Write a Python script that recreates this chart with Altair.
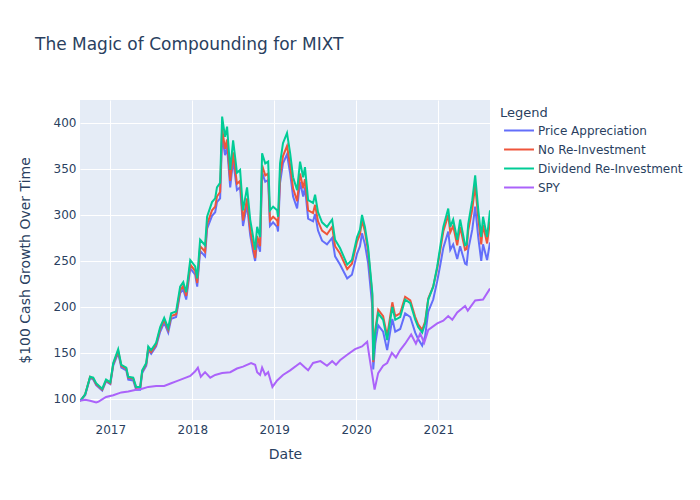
import altair as alt
import pandas as pd

# MIXT series
dates = [
    "2016-08-19", "2016-08-24", "2016-09-11", "2016-10-03", "2016-10-17", "2016-10-30",
    "2016-11-17", "2016-11-26", "2016-12-13", "2017-01-01", "2017-01-14", "2017-02-05",
    "2017-02-19", "2017-03-13", "2017-03-22", "2017-04-13", "2017-04-26", "2017-05-14",
    "2017-05-23", "2017-06-10", "2017-06-19", "2017-07-02", "2017-07-24", "2017-08-11",
    "2017-08-29", "2017-09-16", "2017-09-29", "2017-10-21", "2017-11-08", "2017-11-22",
    "2017-12-05", "2017-12-23", "2018-01-14", "2018-01-23", "2018-02-05", "2018-02-27",
    "2018-03-08", "2018-03-30", "2018-04-13", "2018-04-21", "2018-05-05", "2018-05-14",
    "2018-05-27", "2018-06-05", "2018-06-19", "2018-07-02", "2018-07-19", "2018-08-02",
    "2018-08-15", "2018-09-02", "2018-09-16", "2018-09-29", "2018-10-08", "2018-10-17",
    "2018-10-30", "2018-11-08", "2018-11-22", "2018-12-05", "2018-12-13", "2018-12-27",
    "2019-01-14", "2019-01-18", "2019-01-27", "2019-02-09", "2019-02-27", "2019-03-13",
    "2019-03-26", "2019-04-13", "2019-04-26", "2019-05-10", "2019-05-18", "2019-06-01",
    "2019-06-23", "2019-07-02", "2019-07-15", "2019-08-02", "2019-08-24", "2019-09-16",
    "2019-09-29", "2019-10-21", "2019-11-22", "2019-12-13", "2020-01-05", "2020-01-18",
    "2020-01-27", "2020-02-09", "2020-02-23", "2020-03-13", "2020-03-17", "2020-03-26",
    "2020-04-08", "2020-04-30", "2020-05-18", "2020-06-10", "2020-06-23", "2020-07-15",
    "2020-08-06", "2020-08-29", "2020-09-20", "2020-10-03", "2020-10-21", "2020-11-03",
    "2020-11-17", "2020-12-09", "2020-12-27", "2021-01-09", "2021-01-23", "2021-02-14",
    "2021-02-23", "2021-03-08", "2021-03-26", "2021-04-08", "2021-04-30", "2021-05-07",
    "2021-05-14", "2021-06-01", "2021-06-14", "2021-06-28", "2021-07-11", "2021-07-19",
    "2021-08-06", "2021-08-19",
]
dividend_reinvest = [
    98, 99, 105, 124, 123, 117, 113, 111, 121, 118, 139, 154,
    137, 134, 124, 123, 113, 113, 131, 139, 157, 153, 161, 178,
    188, 177, 193, 195, 222, 227, 216, 251, 244, 231, 273, 267,
    298, 314, 318, 330, 335, 407, 385, 396, 349, 381, 346, 349,
    305, 330, 295, 276, 262, 287, 276, 367, 356, 358, 305, 309,
    305, 298, 356, 378, 389, 367, 341, 327, 358, 341, 352, 316,
    313, 322, 303, 292, 287, 295, 273, 264, 246, 251, 276, 284,
    300, 287, 265, 215, 142, 172, 193, 186, 164, 200, 186, 189,
    208, 204, 186, 178, 172, 182, 208, 222, 244, 265, 287, 307,
    287, 295, 273, 295, 267, 268, 290, 316, 343, 305, 276, 298,
    276, 305,
]
no_reinvest = [
    98, 99, 105, 124, 122, 116, 112, 110, 120, 117, 138, 152,
    136, 133, 123, 122, 112, 112, 130, 138, 155, 151, 159, 176,
    186, 175, 190, 192, 218, 223, 212, 246, 239, 226, 266, 260,
    290, 305, 309, 320, 325, 394, 372, 382, 337, 368, 334, 337,
    294, 318, 284, 266, 253, 277, 266, 354, 343, 345, 294, 298,
    294, 288, 343, 364, 375, 354, 329, 315, 345, 329, 339, 305,
    302, 311, 293, 283, 279, 287, 266, 258, 241, 247, 271, 279,
    294, 282, 261, 212, 140, 175, 197, 190, 168, 205, 190, 193,
    211, 207, 189, 181, 175, 184, 209, 222, 242, 261, 282, 300,
    281, 288, 267, 287, 262, 263, 283, 306, 332, 296, 268, 289,
    269, 293,
]
price_appreciation = [
    98, 99, 104, 123, 121, 115, 111, 109, 119, 116, 136, 150,
    134, 131, 121, 120, 110, 110, 128, 136, 153, 149, 157, 173,
    183, 172, 187, 189, 215, 219, 208, 242, 235, 222, 261, 255,
    285, 299, 303, 314, 318, 386, 365, 374, 330, 360, 327, 330,
    288, 311, 278, 260, 250, 271, 260, 346, 336, 338, 288, 292,
    287, 282, 335, 356, 366, 345, 320, 307, 336, 320, 330, 296,
    293, 301, 283, 272, 268, 275, 255, 246, 231, 235, 258, 266,
    280, 268, 248, 200, 132, 160, 180, 173, 153, 187, 173, 176,
    193, 189, 172, 165, 158, 168, 195, 208, 228, 245, 264, 282,
    262, 268, 252, 266, 247, 246, 262, 284, 309, 275, 250, 268,
    251, 270,
]

# SPY series
spy_dates = [
    "2016-08-19", "2016-09-11", "2016-10-03", "2016-10-30", "2016-11-10", "2016-12-13",
    "2017-01-14", "2017-02-19", "2017-03-22", "2017-04-26", "2017-05-23", "2017-06-19",
    "2017-07-24", "2017-08-29", "2017-09-29", "2017-10-21", "2017-11-22", "2017-12-23",
    "2018-01-14", "2018-01-26", "2018-02-08", "2018-02-27", "2018-03-22", "2018-04-13",
    "2018-05-14", "2018-06-19", "2018-07-19", "2018-08-15", "2018-09-20", "2018-10-08",
    "2018-10-17", "2018-10-30", "2018-11-08", "2018-11-22", "2018-12-05", "2018-12-24",
    "2019-01-14", "2019-02-09", "2019-03-13", "2019-04-26", "2019-05-18", "2019-06-01",
    "2019-06-23", "2019-07-26", "2019-08-24", "2019-09-16", "2019-10-03", "2019-10-21",
    "2019-11-22", "2019-12-27", "2020-01-27", "2020-02-19", "2020-02-28", "2020-03-23",
    "2020-04-08", "2020-04-30", "2020-05-18", "2020-06-08", "2020-06-26", "2020-07-15",
    "2020-08-06", "2020-09-02", "2020-09-23", "2020-10-12", "2020-10-30", "2020-11-17",
    "2020-12-27", "2021-01-23", "2021-02-14", "2021-03-04", "2021-03-26", "2021-04-30",
    "2021-05-12", "2021-06-14", "2021-07-19", "2021-08-19",
]
spy = [
    98, 99, 98, 96, 97, 102,
    104, 107, 108, 110, 111, 113,
    114, 114, 117, 119, 122, 125,
    130, 134, 124, 129, 123, 126,
    128, 129, 133, 135, 139, 137,
    129, 126, 134, 126, 129, 113,
    120, 126, 131, 139, 134, 131,
    139, 141, 136, 141, 137, 142,
    148, 154, 157, 162, 147, 110,
    128, 136, 139, 150, 145, 153,
    160, 170, 160, 171, 161, 175,
    182, 185, 190, 186, 194, 201,
    196, 207, 208, 220,
]

series_names = ["Price Appreciation", "No Re-Investment", "Dividend Re-Investment", "SPY"]
series_colors = ["#636efa", "#EF553B", "#00cc96", "#ab63fa"]

frames = [
    pd.DataFrame({"Date": pd.to_datetime(dates), "Value": price_appreciation, "Series": series_names[0]}),
    pd.DataFrame({"Date": pd.to_datetime(dates), "Value": no_reinvest, "Series": series_names[1]}),
    pd.DataFrame({"Date": pd.to_datetime(dates), "Value": dividend_reinvest, "Series": series_names[2]}),
    pd.DataFrame({"Date": pd.to_datetime(spy_dates), "Value": spy, "Series": series_names[3]}),
]

FONT = "DejaVu Sans"
TXT = "#2a3f5f"

color = alt.Color(
    "Series:N",
    scale=alt.Scale(domain=series_names, range=series_colors),
    legend=alt.Legend(
        title="Legend", orient="none", legendX=420, legendY=7, padding=0,
        titleFontSize=13, titleFontWeight="normal", titleColor=TXT, titleFont=FONT,
        labelFontSize=12, labelColor=TXT, labelFont=FONT, titlePadding=0,
        symbolType="M-0.68,0H2.47", symbolStrokeWidth=2, symbolSize=361, rowPadding=2,
        labelOffset=17,
    ),
)

x = alt.X(
    "Date:T",
    scale=alt.Scale(nice=False),
    axis=alt.Axis(
        title="Date", format="%Y", tickCount={"interval": "year", "step": 1},
        grid=True, gridColor="white", gridWidth=1, domain=False, ticks=False,
        labelFontSize=12, labelColor=TXT, labelFont=FONT, labelPadding=4,
        titleFontSize=14, titleFontWeight="normal", titleColor=TXT, titleFont=FONT,
        titlePadding=12,
    ),
)
y = alt.Y(
    "Value:Q",
    scale=alt.Scale(domain=[77, 425], nice=False, zero=False),
    axis=alt.Axis(
        title="$100 Cash Growth Over Time", values=[100, 150, 200, 250, 300, 350, 400],
        grid=True, gridColor="white", gridWidth=1, domain=False, ticks=False,
        labelFontSize=12, labelColor=TXT, labelFont=FONT, labelPadding=4,
        titleFontSize=14, titleFontWeight="normal", titleColor=TXT, titleFont=FONT,
        titlePadding=21,
    ),
)

layers = [
    alt.Chart(f).mark_line(strokeWidth=2, clip=True).encode(x=x, y=y, color=color)
    for f in frames
]

chart = (
    alt.layer(*layers)
    .properties(
        width=410,
        height=320,
        title=alt.TitleParams(
            "The Magic of Compounding for MIXT", anchor="start", frame="group",
            fontSize=17, font=FONT, fontWeight="normal", color=TXT, dx=-45, offset=46,
        ),
        autosize=alt.AutoSizeParams(type="none"),
        padding={"left": 72, "top": 92, "right": 200, "bottom": 70},
    )
    .configure(background="white")
    .configure_view(fill="#E5ECF6", strokeWidth=0)
)

chart.save("out.html", embed_options={"renderer": "svg", "actions": False})
